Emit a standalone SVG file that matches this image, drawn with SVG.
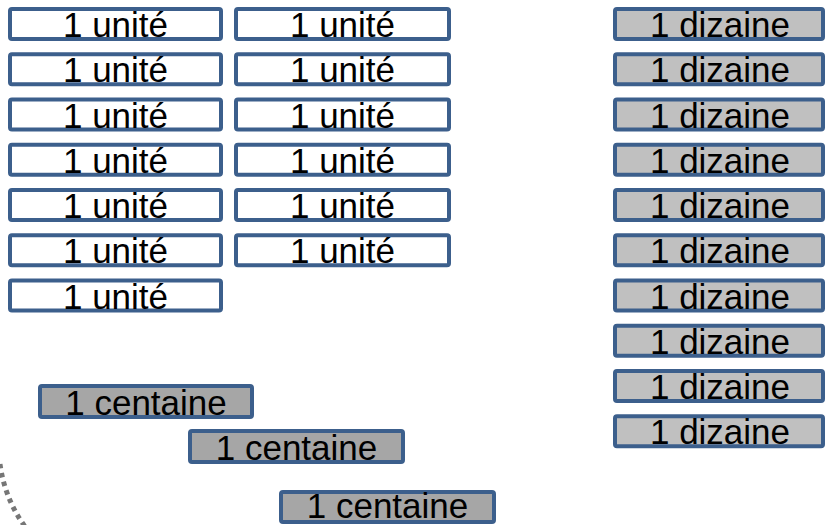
<svg xmlns="http://www.w3.org/2000/svg" width="825" height="525" viewBox="0 0 825 525">
<style>
rect.b{stroke:#3c5f8c;stroke-width:4}
rect.u{fill:#ffffff}
rect.d{fill:#c0c0c0}
rect.c{fill:#a6a6a6}
text{font-family:"Liberation Sans",Arial,sans-serif;font-size:35px;fill:#000;text-anchor:middle}
.arc{fill:none;stroke:#767676;stroke-width:5;stroke-dasharray:4.5 4.5}
</style>
<rect width="825" height="525" fill="#ffffff"/>
<g id="connectors">
<path class="arc" d="M 0 464 Q 5 500 26 528"/>
</g>
<g id="u1"><rect class="b u" x="10" y="9" width="211" height="30" rx="2"/><text x="115.5" y="37">1 unité</text></g>
<g id="u2"><rect class="b u" x="10" y="54.25" width="211" height="30" rx="2"/><text x="115.5" y="82.25">1 unité</text></g>
<g id="u3"><rect class="b u" x="10" y="99.5" width="211" height="30" rx="2"/><text x="115.5" y="127.5">1 unité</text></g>
<g id="u4"><rect class="b u" x="10" y="144.75" width="211" height="30" rx="2"/><text x="115.5" y="172.75">1 unité</text></g>
<g id="u5"><rect class="b u" x="10" y="190" width="211" height="30" rx="2"/><text x="115.5" y="218">1 unité</text></g>
<g id="u6"><rect class="b u" x="10" y="235.25" width="211" height="30" rx="2"/><text x="115.5" y="263.25">1 unité</text></g>
<g id="u7"><rect class="b u" x="10" y="280.5" width="211" height="30" rx="2"/><text x="115.5" y="308.5">1 unité</text></g>
<g id="u8"><rect class="b u" x="236" y="9" width="213" height="30" rx="2"/><text x="342.5" y="37">1 unité</text></g>
<g id="u9"><rect class="b u" x="236" y="54.25" width="213" height="30" rx="2"/><text x="342.5" y="82.25">1 unité</text></g>
<g id="u10"><rect class="b u" x="236" y="99.5" width="213" height="30" rx="2"/><text x="342.5" y="127.5">1 unité</text></g>
<g id="u11"><rect class="b u" x="236" y="144.75" width="213" height="30" rx="2"/><text x="342.5" y="172.75">1 unité</text></g>
<g id="u12"><rect class="b u" x="236" y="190" width="213" height="30" rx="2"/><text x="342.5" y="218">1 unité</text></g>
<g id="u13"><rect class="b u" x="236" y="235.25" width="213" height="30" rx="2"/><text x="342.5" y="263.25">1 unité</text></g>
<g id="d1"><rect class="b d" x="615" y="9" width="208" height="30" rx="2"/><text x="720" y="37">1 dizaine</text></g>
<g id="d2"><rect class="b d" x="615" y="54.25" width="208" height="30" rx="2"/><text x="720" y="82.25">1 dizaine</text></g>
<g id="d3"><rect class="b d" x="615" y="99.5" width="208" height="30" rx="2"/><text x="720" y="127.5">1 dizaine</text></g>
<g id="d4"><rect class="b d" x="615" y="144.75" width="208" height="30" rx="2"/><text x="720" y="172.75">1 dizaine</text></g>
<g id="d5"><rect class="b d" x="615" y="190" width="208" height="30" rx="2"/><text x="720" y="218">1 dizaine</text></g>
<g id="d6"><rect class="b d" x="615" y="235.25" width="208" height="30" rx="2"/><text x="720" y="263.25">1 dizaine</text></g>
<g id="d7"><rect class="b d" x="615" y="280.5" width="208" height="30" rx="2"/><text x="720" y="308.5">1 dizaine</text></g>
<g id="d8"><rect class="b d" x="615" y="325.75" width="208" height="30" rx="2"/><text x="720" y="353.75">1 dizaine</text></g>
<g id="d9"><rect class="b d" x="615" y="371" width="208" height="30" rx="2"/><text x="720" y="399">1 dizaine</text></g>
<g id="d10"><rect class="b d" x="615" y="416.25" width="208" height="30" rx="2"/><text x="720" y="444.25">1 dizaine</text></g>
<g id="c1"><rect class="b c" x="40" y="386" width="212" height="31" rx="2"/><text x="146" y="415">1 centaine</text></g>
<g id="c2"><rect class="b c" x="190" y="431" width="213" height="31" rx="2"/><text x="296.5" y="460">1 centaine</text></g>
<g id="c3"><rect class="b c" x="281" y="492" width="213" height="30" rx="2"/><text x="387.5" y="518">1 centaine</text></g>
</svg>
